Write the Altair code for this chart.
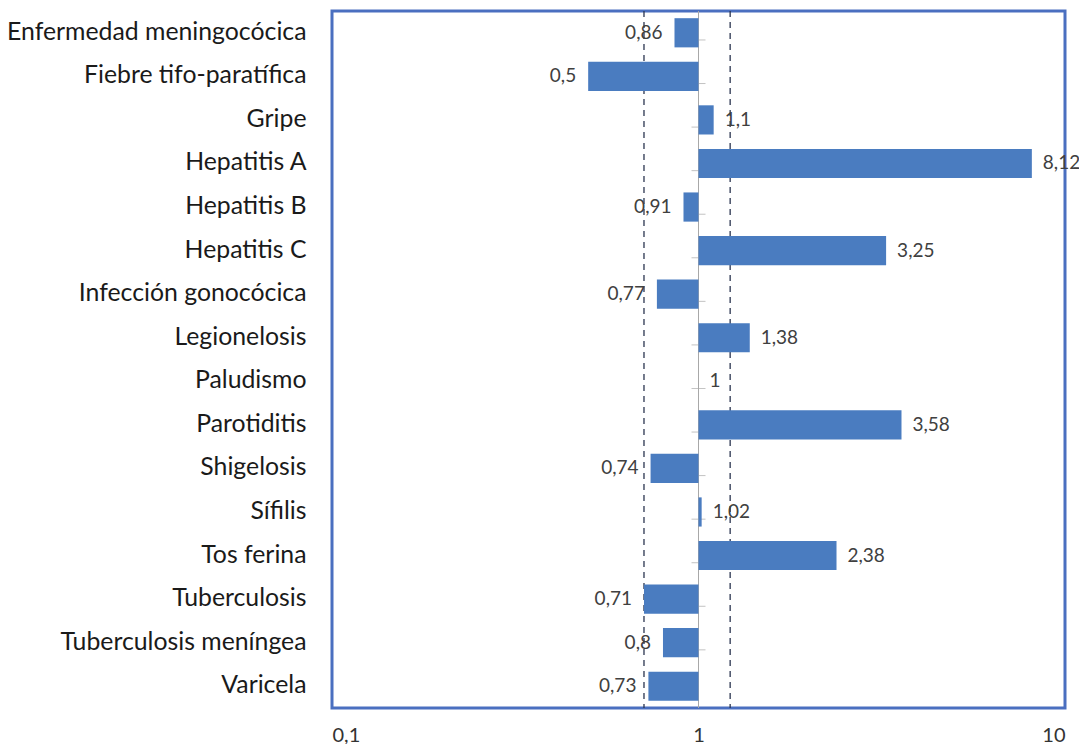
import altair as alt
import pandas as pd

categories = [
    "Enfermedad meningocócica", "Fiebre tifo-paratífica", "Gripe", "Hepatitis A",
    "Hepatitis B", "Hepatitis C", "Infección gonocócica", "Legionelosis",
    "Paludismo", "Parotiditis", "Shigelosis", "Sífilis", "Tos ferina",
    "Tuberculosis", "Tuberculosis meníngea", "Varicela",
]
values = [0.86, 0.5, 1.1, 8.12, 0.91, 3.25, 0.77, 1.38, 1.0, 3.58, 0.74, 1.02, 2.38, 0.71, 0.8, 0.73]
ref_lines = [0.71, 1.22]
x_ticks = [0.1, 1, 10]

W, H = 733, 697
step = H / len(categories)

df = pd.DataFrame({"cat": categories, "v": values})
df["base"] = 1.0
df["label"] = [f"{v:g}".replace(".", ",") for v in values]
df["side"] = ["low" if v < 1 else "high" for v in values]

xscale = alt.Scale(type="log", domain=[0.1, 10], nice=False)
yscale = alt.Scale(domain=categories, paddingInner=0.33, paddingOuter=0.165)

base = alt.Chart(df)

bars = base.mark_bar(color="#4A7CC0").encode(
    x=alt.X("v:Q", scale=xscale, axis=alt.Axis(
        values=x_ticks, title=None, grid=False, domain=False, ticks=False,
        labelExpr="replace(datum.label, '.', ',')", labelPadding=17,
        labelFontSize=20, labelColor="#333333", labelFont="Lato")),
    x2="base:Q",
    y=alt.Y("cat:N", scale=yscale, sort=categories, axis=alt.Axis(
        title=None, domain=False, ticks=False, labelPadding=26,
        labelFontSize=24.8, labelColor="#1a1a1a", labelFont="Lato",
        labelLimit=400)),
)

axis_line = base.mark_rule(color="#A8A8A8", strokeWidth=1).encode(
    x=alt.X("base:Q", scale=xscale)
)

cat_ticks = alt.Chart(df.iloc[:-1]).mark_tick(
    orient="horizontal", color="#A8A8A8", thickness=1, size=14
).encode(
    x=alt.X("base:Q", scale=xscale),
    y=alt.Y("cat:N", scale=yscale, sort=categories),
    yOffset=alt.value(step / 2),
)

ref_df = pd.DataFrame({"r": ref_lines})
refs = alt.Chart(ref_df).mark_rule(color="#2B3550", strokeWidth=1.3, strokeDash=[6, 5]).encode(
    x=alt.X("r:Q", scale=xscale)
)

lab_low = base.transform_filter("datum.side == 'low'").mark_text(
    align="right", baseline="middle", dx=-12, fontSize=19, color="#404040", font="Lato"
).encode(
    x=alt.X("v:Q", scale=xscale), y=alt.Y("cat:N", scale=yscale, sort=categories), text="label:N"
)
lab_high = base.transform_filter("datum.side == 'high'").mark_text(
    align="left", baseline="middle", dx=11, fontSize=19, color="#404040", font="Lato"
).encode(
    x=alt.X("v:Q", scale=xscale), y=alt.Y("cat:N", scale=yscale, sort=categories), text="label:N"
)

chart = alt.layer(axis_line, cat_ticks, refs, bars, lab_low, lab_high).properties(
    width=W, height=H,
    autosize=alt.AutoSizeParams(type="none"),
    padding={"left": 324, "top": 3, "right": 14, "bottom": 36},
).configure(background="white").configure_view(stroke="#4A6FC0", strokeWidth=3)

chart.save("out.html", embed_options={"renderer": "svg", "actions": False})
